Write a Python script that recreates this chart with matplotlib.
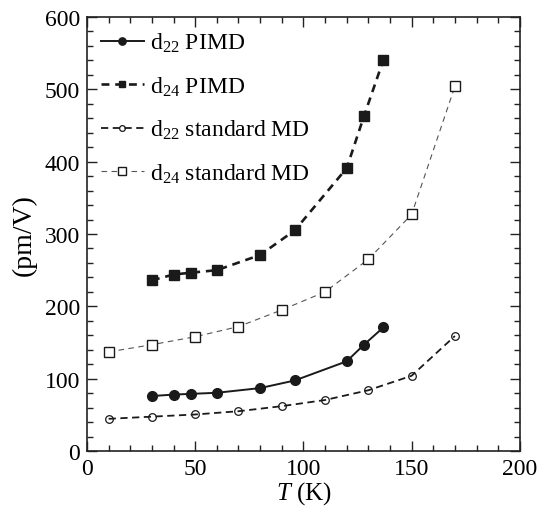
import matplotlib
matplotlib.use("Agg")
import matplotlib.pyplot as plt
from matplotlib.ticker import MultipleLocator

plt.rcParams['font.family'] = ['Liberation Serif', 'DejaVu Serif']
plt.rcParams['mathtext.fontset'] = 'custom'
plt.rcParams['mathtext.rm'] = 'Liberation Serif'
plt.rcParams['mathtext.it'] = 'Liberation Serif:italic'

# Temperatures (K) and nonlinear coefficients (pm/V)
T_pimd = [30, 40, 48, 60, 80, 96, 120, 128, 137]
d22_pimd = [76, 78, 79, 80.5, 87, 97.5, 124, 147, 171]
d24_pimd = [236, 244, 246.5, 250, 271, 305, 391, 463, 541]

T_md = [10, 30, 50, 70, 90, 110, 130, 150, 170]
d22_md = [44.5, 47.5, 50.5, 55, 62, 70.5, 84, 104, 159]
d24_md = [137, 147, 158, 172, 195, 220, 265, 327, 504]

labels = [r'd$_{22}$ PIMD', r'd$_{24}$ PIMD',
          r'd$_{22}$ standard MD', r'd$_{24}$ standard MD']

fig = plt.figure(figsize=(5.37, 5.10), dpi=100)
ax = fig.add_axes([0.162, 0.1137, 0.806, 0.851])

ax.plot(T_pimd, d22_pimd, '-', color='#1a1a1a', lw=1.4, marker='o',
        ms=7, mfc='#1a1a1a', mec='#1a1a1a', label=labels[0])
ax.plot(T_pimd, d24_pimd, '--', color='#1a1a1a', lw=1.9, dashes=(3, 2.2),
        marker='s', ms=6.5, mfc='#1a1a1a', mec='#1a1a1a', label=labels[1])
ax.plot(T_md, d22_md, '--', color='#1a1a1a', lw=1.3, dashes=(4, 2.5),
        marker='o', ms=5.5, mfc='none', mec='#1a1a1a', mew=0.9,
        label=labels[2])
ax.plot(T_md, d24_md, '--', color='#555555', lw=0.8, dashes=(5, 4),
        marker='s', ms=7, mfc='white', mec='#1a1a1a', mew=1.0,
        label=labels[3])

ax.set_xlim(0, 200)
ax.set_ylim(0, 600)
ax.xaxis.set_major_locator(MultipleLocator(50))
ax.xaxis.set_minor_locator(MultipleLocator(10))
ax.yaxis.set_major_locator(MultipleLocator(100))
ax.yaxis.set_minor_locator(MultipleLocator(20))
ax.tick_params(which='both', direction='in', top=True, right=True,
               labelsize=17, width=1.0, color='#222222')
ax.tick_params(which='major', length=7, pad=5)
ax.tick_params(which='minor', length=4)
for s in ax.spines.values():
    s.set_linewidth(1.2)
    s.set_color('#222222')

ax.set_xlabel(r'$T$ (K)', fontsize=18, labelpad=0)
ax.set_ylabel('(pm/V)', fontsize=20, labelpad=6)

ax.legend(loc='upper left', frameon=False, fontsize=17, handlelength=1.8,
          handletextpad=0.25, labelspacing=0.85, borderaxespad=0.3,
          borderpad=0.3, markerscale=0.75)

fig.savefig('out.png', dpi=100)
